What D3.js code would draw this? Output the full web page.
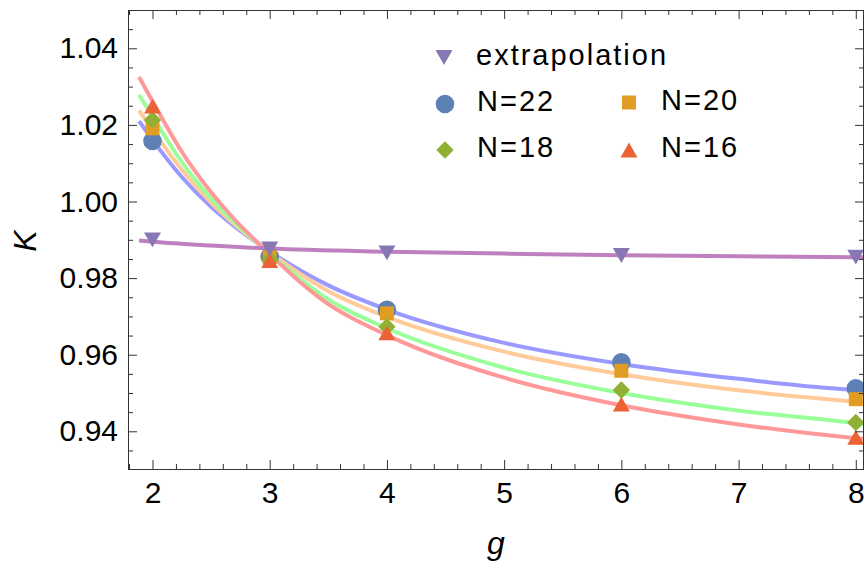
<!DOCTYPE html>
<html lang="en">
<head>
<meta charset="UTF-8">
<title>K vs g</title>
<script src="https://cdnjs.cloudflare.com/ajax/libs/d3/7.8.5/d3.min.js"></script>
<style>
  body { margin: 0; background: #fff; }
  svg { display: block; font-family: "Liberation Sans", Arial, sans-serif; }
  .axis text { font-size: 30px; fill: #000; }
  .axis line { stroke: #333; }
  .axis path { display: none; }
  .legend text { font-size: 29px; letter-spacing: 2px; fill: #000; }
  .label { font-size: 32px; font-style: italic; }
</style>
</head>
<body>
<div id="chart"></div>
<script>
// fitted curves, sampled along g
var gFit   = [1.885, 2, 2.25, 2.5, 2.7, 2.92, 3.5, 4, 5, 6, 7, 8, 8.07];
var fitN22 = [1.0210, 1.0161, 1.0064, 0.9986, 0.9935, 0.9886, 0.9781, 0.9718, 0.9631, 0.9576, 0.9537, 0.9508, 0.9507];
var fitN20 = [1.0238, 1.0187, 1.0083, 0.9997, 0.9940, 0.9886, 0.9766, 0.9699, 0.9608, 0.9549, 0.9507, 0.9477, 0.9475];
var fitN18 = [1.0278, 1.0222, 1.0103, 1.0008, 0.9945, 0.9886, 0.9744, 0.9669, 0.9566, 0.9500, 0.9454, 0.9421, 0.9418];
var fitN16 = [1.0325, 1.0262, 1.0130, 1.0024, 0.9953, 0.9886, 0.9732, 0.9651, 0.9540, 0.9468, 0.9418, 0.9382, 0.9380];

var gExtrapFit = [1.885, 2, 2.5, 3, 4, 5, 6, 7, 8, 8.07];
var fitExtrap  = [0.9898, 0.9895, 0.9885, 0.9877, 0.9869, 0.9864, 0.9860, 0.9857, 0.98545, 0.98543];

// measured points
var gData   = [2, 3, 4, 6, 8];
var kN22    = [1.0158, 0.9856, 0.9717, 0.9580, 0.9512];
var kN20    = [1.0191, 0.9855, 0.9708, 0.9558, 0.9484];
var kN18    = [1.0213, 0.9848, 0.9673, 0.9508, 0.9423];
var kN16    = [1.0249, 0.9846, 0.9657, 0.9471, 0.9384];
var kExtrap = [0.9900, 0.9876, 0.9866, 0.9859, 0.9855];

var xMajor = [2, 3, 4, 5, 6, 7, 8];
var yMajor = [0.94, 0.96, 0.98, 1.00, 1.02, 1.04];

var W = 865, H = 561;
var plotL = 128, plotR = 864, plotT = 10, plotB = 469;

var svg = d3.select("#chart").append("svg")
    .attr("width", W)
    .attr("height", H);

var x = d3.scaleLinear().domain([1.791, 8.07]).range([plotL, plotR]);
var y = d3.scaleLinear().domain([0.93016, 1.05]).range([plotB, plotT]);

var xMinor = d3.range(9, 41).map(function(i) { return i / 5; })
    .filter(function(v) { return Math.abs(v - Math.round(v)) > 1e-6; });
var yMinor = d3.range(187, 210).filter(function(i) { return i % 4 != 0; })
    .map(function(i) { return i / 200; });

svg.append("clipPath").attr("id", "clip")
  .append("rect")
    .attr("x", plotL).attr("y", plotT)
    .attr("width", plotR - plotL).attr("height", plotB - plotT);

// series
var series = [
  { name: "N=22", fit: fitN22, pts: kN22, line: "#9999FF", color: "#5E81B5", shape: "circle" },
  { name: "N=20", fit: fitN20, pts: kN20, line: "#FFCC99", color: "#E19C24", shape: "square" },
  { name: "N=18", fit: fitN18, pts: kN18, line: "#99FF99", color: "#8FB032", shape: "diamond" },
  { name: "N=16", fit: fitN16, pts: kN16, line: "#FF9999", color: "#EB6235", shape: "up" }
];
var extrap = { name: "extrapolation", pts: kExtrap, color: "#8778B3", line: "#BF80BF", shape: "down" };

var shapes = {
  circle: d3.symbol(d3.symbolCircle, Math.PI * 9.3 * 9.3)(),
  square: "M-7,-7h14v14h-14z",
  diamond: "M0,-8.7L8.7,0L0,8.7L-8.7,0Z",
  up: "M0,-7.4L8.5,7.4L-8.5,7.4Z",
  down: "M0,7.4L8.5,-7.4L-8.5,-7.4Z"
};

var line = d3.line()
    .x(function(d) { return x(d[0]); })
    .y(function(d) { return y(d[1]); })
    .curve(d3.curveMonotoneX);

var plot = svg.append("g").attr("clip-path", "url(#clip)");

series.forEach(function(s) {
  plot.append("path")
    .datum(d3.zip(gFit, s.fit))
    .attr("d", line)
    .attr("fill", "none")
    .attr("stroke", s.line)
    .attr("stroke-width", 4);
});

plot.append("path")
  .datum(d3.zip(gExtrapFit, fitExtrap))
  .attr("d", line)
  .attr("fill", "none")
  .attr("stroke", extrap.line)
  .attr("stroke-width", 4);

series.concat([extrap]).forEach(function(s) {
  plot.selectAll(null)
    .data(d3.zip(gData, s.pts))
    .enter().append("path")
      .attr("d", shapes[s.shape])
      .attr("transform", function(d) { return "translate(" + x(d[0]) + "," + y(d[1]) + ")"; })
      .attr("fill", s.color);
});

// axes, ticks point inward like a frame
svg.append("g").attr("class", "axis")
  .attr("transform", "translate(0," + plotB + ")")
  .call(d3.axisBottom(x).tickValues(xMajor).tickSize(-9).tickPadding(13).tickFormat(d3.format("d")));
svg.append("g").attr("class", "axis")
  .attr("transform", "translate(0," + plotB + ")")
  .call(d3.axisBottom(x).tickValues(xMinor).tickSize(-5).tickFormat(""));
svg.append("g").attr("class", "axis")
  .attr("transform", "translate(0," + plotT + ")")
  .call(d3.axisTop(x).tickValues(xMajor).tickSize(-9).tickFormat(""));
svg.append("g").attr("class", "axis")
  .attr("transform", "translate(0," + plotT + ")")
  .call(d3.axisTop(x).tickValues(xMinor).tickSize(-5).tickFormat(""));

svg.append("g").attr("class", "axis")
  .attr("transform", "translate(" + plotL + ",0)")
  .call(d3.axisLeft(y).tickValues(yMajor).tickSize(-9).tickPadding(10).tickFormat(d3.format(".2f")));
svg.append("g").attr("class", "axis")
  .attr("transform", "translate(" + plotL + ",0)")
  .call(d3.axisLeft(y).tickValues(yMinor).tickSize(-5).tickFormat(""));
svg.append("g").attr("class", "axis")
  .attr("transform", "translate(" + plotR + ",0)")
  .call(d3.axisRight(y).tickValues(yMajor).tickSize(-9).tickFormat(""));
svg.append("g").attr("class", "axis")
  .attr("transform", "translate(" + plotR + ",0)")
  .call(d3.axisRight(y).tickValues(yMinor).tickSize(-5).tickFormat(""));

svg.append("rect")
  .attr("x", plotL + 0.5).attr("y", plotT + 0.5)
  .attr("width", plotR - plotL - 1).attr("height", plotB - plotT)
  .attr("fill", "none")
  .attr("stroke", "#333");

// axis labels
svg.append("text").attr("class", "label")
  .attr("x", (plotL + plotR) / 2).attr("y", 554)
  .attr("text-anchor", "middle")
  .text("g");
svg.append("text").attr("class", "label")
  .attr("transform", "translate(36,241) rotate(-90)")
  .attr("text-anchor", "middle")
  .text("K");

// legend
var legendItems = [
  { s: extrap, mx: 444, my: 57.5 },
  { s: series[0], mx: 445, my: 104 },
  { s: series[1], mx: 629, my: 102.5 },
  { s: series[2], mx: 445, my: 150 },
  { s: series[3], mx: 629, my: 150 }
];
var legend = svg.append("g").attr("class", "legend");
legendItems.forEach(function(it) {
  legend.append("path")
    .attr("d", shapes[it.s.shape])
    .attr("transform", "translate(" + it.mx + "," + it.my + ")")
    .attr("fill", it.s.color);
  legend.append("text")
    .attr("x", it.mx + 32)
    .attr("y", it.my + 7)
    .text(it.s.name);
});
</script>
</body>
</html>
